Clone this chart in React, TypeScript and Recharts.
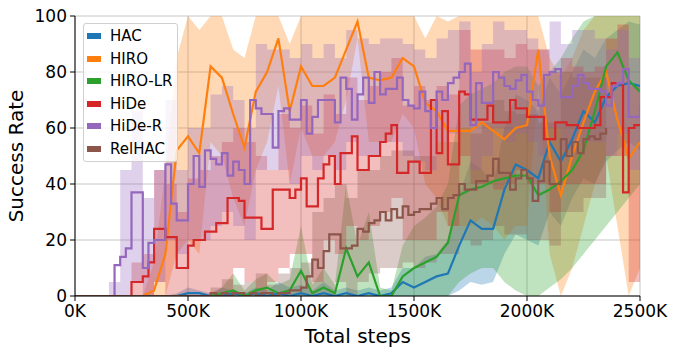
import { ComposedChart, Area, Line, XAxis, YAxis, CartesianGrid } from "recharts";

// x grids, in thousands of steps
const steps50 = [0, 50, 100, 150, 200, 250, 300, 350, 400, 450, 500, 550, 600, 650, 700, 750, 800, 850, 900, 950, 1000,
  1050, 1100, 1150, 1200, 1250, 1300, 1350, 1400, 1450, 1500, 1550, 1600, 1650, 1700, 1750, 1800, 1850, 1900, 1950, 2000,
  2050, 2100, 2150, 2200, 2250, 2300, 2350, 2400, 2450, 2500];
const steps25 = [0, 25, 50, 75, 100, 125, 150, 175, 200, 225, 250, 275, 300, 325, 350, 375, 400, 425, 450, 475, 500,
  525, 550, 575, 600, 625, 650, 675, 700, 725, 750, 775, 800, 825, 850, 875, 900, 925, 950, 975, 1000,
  1025, 1050, 1075, 1100, 1125, 1150, 1175, 1200, 1225, 1250, 1275, 1300, 1325, 1350, 1375, 1400, 1425, 1450, 1475, 1500,
  1525, 1550, 1575, 1600, 1625, 1650, 1675, 1700, 1725, 1750, 1775, 1800, 1825, 1850, 1875, 1900, 1925, 1950, 1975, 2000,
  2025, 2050, 2075, 2100, 2125, 2150, 2175, 2200, 2225, 2250, 2275, 2300, 2325, 2350, 2375, 2400, 2425, 2450, 2475, 2500];

const xTicks = [0, 500, 1000, 1500, 2000, 2500];
const yTicks = [0, 20, 40, 60, 80, 100];

// means (success rate %)
const hacMean = [0, 0, 0, 0, 0, 0, 0, 0, 0, 0, 1, 1, 0, 0, 1, 0, 1, 0, 1, 0, 1, 0, 1, 0, 1, 0, 1, 0, 1, 5,
  3, 5, 7, 8, 18, 27, 24, 24, 38, 47, 45, 42, 55, 48, 56, 66, 62, 71, 75, 76, 75];
const hiroMean = [0, 0, 0, 0, 0, 0, 0, 2, 15, 52, 57, 51, 82, 78, 65, 53, 73, 80, 92, 66, 82, 75, 75, 78, 88, 98, 78, 77, 78, 85,
  82, 69, 66, 59, 59, 59, 62, 59, 56, 60, 61, 88, 50, 36, 50, 62, 73, 80, 63, 49, 55];
const hiroLrMean = [0, 0, 0, 0, 0, 0, 0, 0, 0, 0, 0, 0, 0, 1, 2, 0, 2, 3, 1, 2, 9, 1, 3, 1, 17, 7, 12, 0, 0, 7,
  10, 12, 14, 19, 36, 38, 39, 41, 42, 43, 43, 36, 38, 41, 45, 52, 66, 82, 87, 77, 73];
const hideMean = [0, 0, 0, 0, 0, 0, 0, 0, 0, 0, 5, 5, 7, 12, 24, 24, 21, 21, 10, 10,
  18, 20, 20, 23, 23, 26, 26, 35, 35, 34, 28, 28, 28, 24, 24, 38, 38, 38, 35, 38,
  42, 32, 32, 42, 47, 50, 40, 51, 51, 57, 45, 45, 50, 50, 55, 58, 61, 44, 44, 48,
  48, 44, 44, 70, 51, 66, 47, 47, 73, 72, 63, 63, 63, 68, 62, 62, 62, 70, 67, 67,
  64, 64, 64, 56, 56, 62, 62, 61, 61, 60, 60, 60, 61, 71, 71, 76, 76, 37, 60, 61, 61];
const hideRMean = [0, 0, 0, 0, 0, 0, 0, 11, 14, 17, 37, 37, 10, 19, 20, 20, 47, 33, 27, 27,
  40, 50, 39, 52, 49, 47, 51, 43, 48, 45, 40, 70, 67, 65, 65, 53, 66, 67, 63, 63,
  70, 58, 64, 70, 70, 70, 62, 78, 74, 63, 72, 78, 69, 80, 72, 74, 74, 78, 70, 68,
  67, 73, 66, 60, 73, 70, 76, 78, 80, 83, 61, 76, 69, 69, 80, 78, 75, 74, 77, 79,
  73, 70, 68, 79, 80, 81, 71, 71, 75, 79, 76, 74, 74, 73, 68, 75, 76, 81, 64, 64, 68];
const relhacMean = [0, 0, 0, 0, 0, 0, 0, 0, 0, 0, 0, 0, 0, 0, 0, 0, 0, 0, 0, 0,
  0, 0, 0, 0, 1, 0, 1, 0, 1, 1, 0, 1, 0, 1, 1, 0, 1, 1, 2, 2,
  3, 7, 13, 10, 16, 22, 22, 17, 17, 18, 24, 23, 26, 27, 30, 27, 31, 28, 32, 29,
  30, 31, 31, 33, 35, 31, 35, 36, 40, 38, 38, 41, 41, 43, 49, 44, 44, 38, 42, 45,
  42, 34, 41, 48, 40, 40, 56, 50, 55, 51, 56, 57, 56, 58, 60];

// shaded bands (lower / upper), every 50K
const hacLo = [0, 0, 0, 0, 0, 0, 0, 0, 0, 0, 0, 0, 0, 0, 0, 0, 0, 0, 0, 0, 0, 0, 0, 0, 0, 0, 0, 0, 0, 0, 0, 0, 0, 0,
  2, 5, 4, 5, 15, 22, 20, 18, 30, 25, 35, 42, 40, 48, 52, 55, 52];
const hacHi = [0, 0, 0, 0, 0, 0, 0, 0, 0, 1, 3, 2, 1, 3, 2, 1, 3, 2, 5, 3, 4, 2, 5, 2, 3, 2, 3, 2, 3,
  10, 10, 14, 15, 20, 36, 48, 45, 40, 60, 72, 70, 66, 78, 72, 80, 88, 85, 92, 95, 98, 97];
const hiroLo = [0, 0, 0, 0, 0, 0, 0, 0, 0, 15, 20, 15, 55, 50, 35, 25, 45, 55, 75, 40, 60, 50, 50, 55, 70, 92, 55, 55, 55, 65,
  60, 40, 35, 25, 25, 25, 28, 25, 20, 25, 25, 75, 15, 0, 10, 25, 40, 50, 25, 0, 10];
const hiroHi = [0, 0, 0, 0, 0, 0, 0, 12, 45, 85, 100, 95, 100, 100, 88, 85, 100, 100, 100, 90, 100, 100, 100, 100, 100, 100, 100, 100, 100, 100,
  100, 92, 100, 98, 100, 100, 100, 100, 100, 100, 100, 100, 85, 78, 85, 95, 100, 100, 100, 100, 100];
const hiroLrLo = [0, 0, 0, 0, 0, 0, 0, 0, 0, 0, 0, 0, 0, 0, 0, 0, 0, 0, 0, 0, 0, 0, 0, 0, 0, 0, 0, 0, 0, 0, 0, 0, 0, 0,
  5, 8, 10, 10, 5, 2, 0, 0, 3, 6, 10, 15, 20, 25, 30, 35, 40];
const hiroLrHi = [0, 0, 0, 0, 0, 0, 0, 0, 0, 0, 0, 0, 0, 3, 8, 2, 6, 8, 4, 6, 25, 4, 10, 4, 40, 18, 30, 3, 2, 18,
  25, 28, 32, 40, 68, 72, 74, 76, 80, 82, 82, 75, 80, 85, 92, 98, 100, 100, 100, 100, 100];
const hideLo = [0, 0, 0, 0, 0, 0, 0, 5, 0, 0, 0, 0, 0, 0, 10, 5, 0, 5, 10, 15, 15, 5, 20, 15, 25, 20, 25, 30, 35, 20,
  20, 20, 30, 25, 50, 40, 40, 38, 40, 45, 40, 40, 30, 40, 40, 40, 40, 50, 50, 5, 35];
const hideHi = [0, 0, 0, 0, 0, 12, 15, 45, 40, 30, 42, 45, 50, 55, 60, 55, 50, 45, 65, 60, 68, 58, 72, 65, 78, 70, 75, 80, 85, 68,
  75, 70, 75, 72, 95, 88, 88, 88, 85, 90, 88, 88, 80, 85, 82, 80, 82, 92, 97, 75, 88];
const hideRLo = [0, 0, 0, 0, 0, 5, 0, 5, 20, 15, 20, 20, 25, 30, 25, 20, 45, 45, 45, 40, 50, 45, 50, 45, 55, 50, 50, 55, 55, 50,
  48, 45, 55, 58, 60, 45, 50, 60, 55, 58, 55, 50, 60, 52, 55, 55, 55, 50, 58, 45, 50];
const hideRHi = [0, 0, 0, 5, 45, 66, 35, 45, 70, 45, 60, 60, 72, 75, 70, 60, 90, 88, 88, 85, 90, 85, 90, 85, 95, 92, 90, 92, 92, 90,
  88, 85, 92, 95, 98, 80, 90, 98, 95, 95, 92, 88, 98, 90, 95, 95, 92, 88, 95, 85, 88];
const relhacLo = [0, 0, 0, 0, 0, 0, 0, 0, 0, 0, 0, 0, 0, 0, 0, 0, 0, 0, 0, 0, 0, 0, 0,
  5, 0, 5, 8, 10, 10, 12, 10, 12, 15, 15, 20, 18, 20, 25, 22, 22, 20, 20, 18, 30, 30, 35, 35, 38];
const relhacHi = [0, 0, 0, 0, 0, 0, 0, 0, 0, 0, 0, 0,
  3, 6, 4, 5, 8, 4, 8, 10, 12, 30, 35, 40, 35, 45, 45, 50, 52, 52, 50,
  50, 55, 55, 60, 58, 62, 70, 66, 65, 65, 62, 62, 80, 78, 78, 78, 80];

const names = ["HAC", "HIRO", "HIRO-LR", "HiDe", "HiDe-R", "RelHAC"];
const colors = ["#1f77b4", "#ff7f0e", "#2ca02c", "#d62728", "#9467bd", "#8c564b"];

const lineRows = (vals: number[], steps: number[]) => vals.map((v, i) => ({ step: steps[i], value: v }));
const bandRows = (lo: number[], hi: number[], steps: number[]) =>
  lo.map((l, i) => ({ step: steps[i], range: [l, hi[i]] }));

const series = [
  { line: lineRows(hacMean, steps50), band: bandRows(hacLo, hacHi, steps50), curve: "linear" },
  { line: lineRows(hiroMean, steps50), band: bandRows(hiroLo, hiroHi, steps50), curve: "linear" },
  { line: lineRows(hiroLrMean, steps50), band: bandRows(hiroLrLo, hiroLrHi, steps50), curve: "linear" },
  { line: lineRows(hideMean, steps25), band: bandRows(hideLo, hideHi, steps50), curve: "stepAfter" },
  { line: lineRows(hideRMean, steps25), band: bandRows(hideRLo, hideRHi, steps50), curve: "stepAfter" },
  { line: lineRows(relhacMean, steps25), band: bandRows(relhacLo, relhacHi, steps50), curve: "stepAfter" },
];

const font = "'DejaVu Sans', sans-serif";

export default function App() {
  return (
    <div style={{ position: "absolute", left: 0, top: 0, width: 676, height: 356, background: "#fff", fontFamily: font }}>
      <ComposedChart width={676} height={356} margin={{ top: 16, right: 36, bottom: 0, left: 0 }}>
        <CartesianGrid stroke="#b8b8b8" strokeWidth={0.8} />
        <XAxis
          type="number"
          dataKey="step"
          domain={[0, 2500]}
          ticks={xTicks}
          tickFormatter={(v) => `${v}K`}
          height={60}
          stroke="#000"
          tick={{ fill: "#000", fontSize: 17 }}
          tickSize={5}
          tickMargin={4}
          allowDataOverflow
          label={{ value: "Total steps", position: "insideBottom", offset: 13, fontSize: 20, fill: "#000" }}
        />
        <YAxis
          type="number"
          domain={[0, 100]}
          ticks={yTicks}
          width={75}
          stroke="#000"
          tick={{ fill: "#000", fontSize: 17 }}
          tickSize={5}
          tickMargin={3}
          allowDataOverflow
          label={{
            content: () => (
              <text x={23} y={156} transform="rotate(-90 23 156)" textAnchor="middle" fontSize={20} fill="#000">
                Success Rate
              </text>
            ),
          }}
        />
        {series.map((s, i) => (
          <Area
            key={"band-" + names[i]}
            data={s.band}
            dataKey="range"
            type={s.curve as any}
            fill={colors[i]}
            fillOpacity={0.3}
            stroke="none"
            dot={false}
            activeDot={false}
            isAnimationActive={false}
          />
        ))}
        {series.map((s, i) => (
          <Line
            key={"line-" + names[i]}
            data={s.line}
            dataKey="value"
            name={names[i]}
            type={s.curve as any}
            stroke={colors[i]}
            strokeWidth={2.2}
            dot={false}
            activeDot={false}
            isAnimationActive={false}
          />
        ))}
      </ComposedChart>
      <div
        style={{
          position: "absolute",
          left: 83,
          top: 23,
          width: 95,
          height: 139,
          boxSizing: "border-box",
          padding: "1px 0",
          background: "rgba(255,255,255,0.8)",
          border: "1px solid #d0d0d0",
          borderRadius: 3,
          fontSize: 15,
          color: "#000",
        }}
      >
        {names.map((n, i) => (
          <div key={n} style={{ display: "flex", alignItems: "center", height: 22.5 }}>
            <span style={{ display: "inline-block", width: 14, height: 6, marginLeft: 3, marginRight: 9, background: colors[i] }} />
            <span>{n}</span>
          </div>
        ))}
      </div>
    </div>
  );
}
